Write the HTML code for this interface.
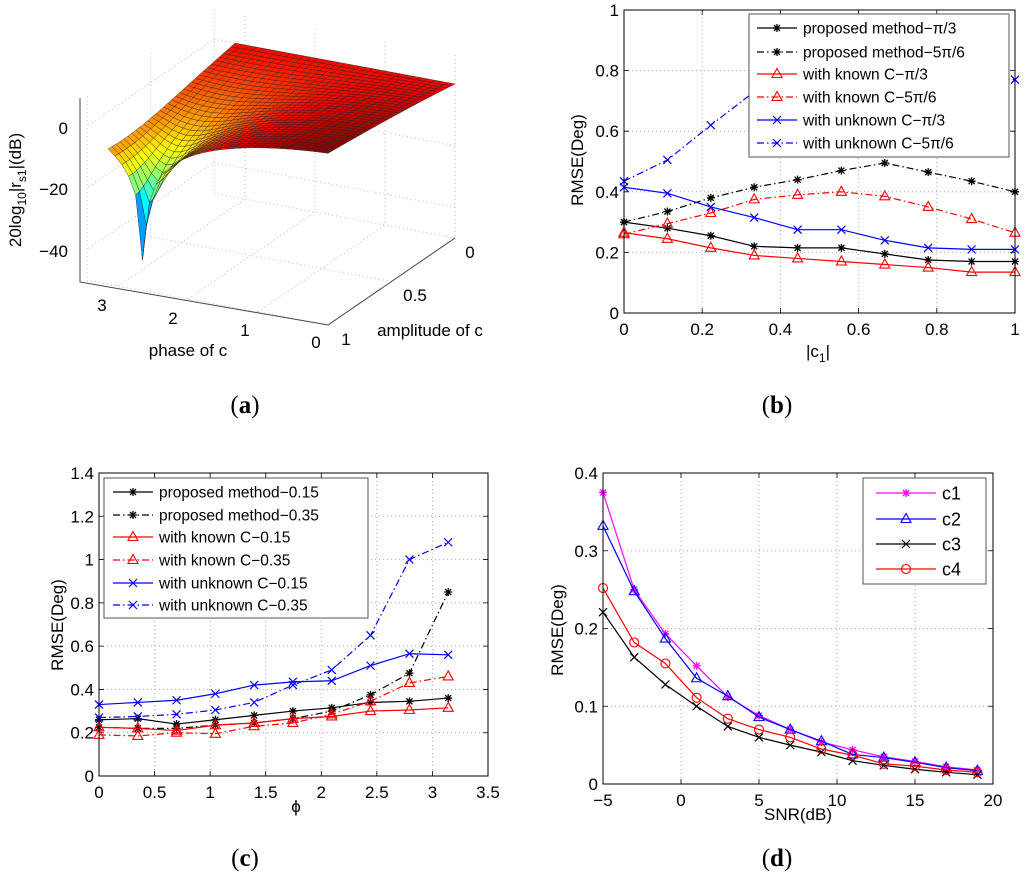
<!DOCTYPE html>
<html><head><meta charset="utf-8"><style>
body{margin:0;background:#fff}
svg{display:block;font-family:"Liberation Sans",sans-serif}
</style></head><body>
<svg id="fig" width="1024" height="882" viewBox="0 0 1024 882">
<g id="pa"></g>
<g id="pb"></g>
<g id="pc"></g>
<g id="pd"></g>
<text x="245" y="413" text-anchor="middle" font-family="Liberation Serif" font-size="25">(<tspan font-weight="bold">a</tspan>)</text>
<text x="777" y="413" text-anchor="middle" font-family="Liberation Serif" font-size="25">(<tspan font-weight="bold">b</tspan>)</text>
<text x="245" y="866" text-anchor="middle" font-family="Liberation Serif" font-size="25">(<tspan font-weight="bold">c</tspan>)</text>
<text x="777" y="866" text-anchor="middle" font-family="Liberation Serif" font-size="25">(<tspan font-weight="bold">d</tspan>)</text>
</svg>
<script>
// ---- Panel (b) data ----
const bX = [0, 0.111, 0.222, 0.333, 0.444, 0.556, 0.667, 0.778, 0.889, 1];
const bPropPi3 = [0.30, 0.28, 0.255, 0.22, 0.215, 0.215, 0.195, 0.175, 0.17, 0.17];
const bProp5Pi6 = [0.30, 0.335, 0.38, 0.415, 0.44, 0.47, 0.495, 0.465, 0.435, 0.40];
const bKnownPi3 = [0.265, 0.245, 0.215, 0.19, 0.18, 0.17, 0.16, 0.15, 0.135, 0.135];
const bKnown5Pi6 = [0.26, 0.295, 0.33, 0.375, 0.39, 0.40, 0.385, 0.35, 0.31, 0.265];
const bUnkPi3 = [0.415, 0.395, 0.35, 0.315, 0.275, 0.275, 0.24, 0.215, 0.21, 0.21];
const bUnk5Pi6 = [0.435, 0.505, 0.62, 0.73, 0.78, 0.80, 0.80, 0.79, 0.78, 0.77];
const bXTicks = ["0","0.2","0.4","0.6","0.8","1"];
const bYTicks = ["0","0.2","0.4","0.6","0.8","1"];
const bLegend = ["proposed method\u2212\u03c0/3","proposed method\u22125\u03c0/6","with known C\u2212\u03c0/3","with known C\u22125\u03c0/6","with unknown C\u2212\u03c0/3","with unknown C\u22125\u03c0/6"];
// ---- Panel (c) data ----
const cX = [0, 0.349, 0.698, 1.047, 1.396, 1.745, 2.094, 2.443, 2.793, 3.142];
const cProp15 = [0.26, 0.265, 0.24, 0.26, 0.28, 0.30, 0.315, 0.34, 0.345, 0.36];
const cProp35 = [0.225, 0.22, 0.22, 0.235, 0.245, 0.265, 0.30, 0.375, 0.475, 0.85];
const cKnown15 = [0.225, 0.22, 0.21, 0.235, 0.245, 0.265, 0.275, 0.30, 0.305, 0.315];
const cKnown35 = [0.19, 0.185, 0.20, 0.195, 0.23, 0.245, 0.285, 0.345, 0.43, 0.46];
const cUnk15 = [0.33, 0.34, 0.35, 0.38, 0.42, 0.435, 0.44, 0.51, 0.565, 0.56];
const cUnk35 = [0.27, 0.275, 0.285, 0.305, 0.34, 0.42, 0.49, 0.65, 1.0, 1.08];
const cXTicks = ["0","0.5","1","1.5","2","2.5","3","3.5"];
const cYTicks = ["0","0.2","0.4","0.6","0.8","1","1.2","1.4"];
const cLegend = ["proposed method\u22120.15","proposed method\u22120.35","with known C\u22120.15","with known C\u22120.35","with unknown C\u22120.15","with unknown C\u22120.35"];
// ---- Panel (d) data ----
const dX = [-5, -3, -1, 1, 3, 5, 7, 9, 11, 13, 15, 17, 19];
const dC1 = [0.375, 0.25, 0.193, 0.152, 0.112, 0.088, 0.07, 0.054, 0.044, 0.035, 0.029, 0.022, 0.018];
const dC2 = [0.332, 0.248, 0.187, 0.136, 0.113, 0.086, 0.07, 0.055, 0.038, 0.034, 0.028, 0.021, 0.017];
const dC3 = [0.221, 0.163, 0.128, 0.10, 0.074, 0.06, 0.05, 0.041, 0.03, 0.024, 0.019, 0.015, 0.012];
const dC4 = [0.252, 0.182, 0.155, 0.111, 0.084, 0.07, 0.06, 0.045, 0.037, 0.026, 0.023, 0.018, 0.015];
const dXTicks = ["-5","0","5","10","15","20"];
const dYTicks = ["0","0.1","0.2","0.3","0.4"];
const dLegend = ["c1","c2","c3","c4"];

const NS = "http://www.w3.org/2000/svg";
function mk(parent, tag, attrs, text) {
  const e = document.createElementNS(NS, tag);
  for (const k in attrs) e.setAttribute(k, attrs[k]);
  if (text !== undefined) e.textContent = text;
  parent.appendChild(e);
  return e;
}
const DASHDOT = "7,3,1.5,3";

function marker(g, type, x, y, color) {
  let m;
  if (type === "star") {
    m = mk(g, "path", {d:`M${x-4},${y}H${x+4}M${x},${y-4}V${y+4}M${x-3},${y-3}L${x+3},${y+3}M${x-3},${y+3}L${x+3},${y-3}`, stroke:color, "stroke-width":1.3, fill:"none"});
  } else if (type === "tri") {
    m = mk(g, "path", {d:`M${x},${y-5.5}L${x+5},${y+3.5}L${x-5},${y+3.5}Z`, stroke:color, "stroke-width":1.1, fill:"none"});
  } else if (type === "x") {
    m = mk(g, "path", {d:`M${x-4},${y-4}L${x+4},${y+4}M${x-4},${y+4}L${x+4},${y-4}`, stroke:color, "stroke-width":1.2, fill:"none"});
  } else {
    m = mk(g, "circle", {cx:x, cy:y, r:4.5, stroke:color, "stroke-width":1.1, fill:"none"});
  }
  
  
}

function chart(gid, box, xr, yr, xTicks, yTicks, series, legend, xlabel, ylabelPos) {
  const g = document.getElementById(gid);
  const sx = v => box.l + (v - xr[0]) / (xr[1] - xr[0]) * (box.r - box.l);
  const sy = v => box.b - (v - yr[0]) / (yr[1] - yr[0]) * (box.b - box.t);
  const nx = xTicks.length, ny = yTicks.length;
  for (let i = 0; i < nx; i++) {
    const v = xr[0] + i * (xr[1] - xr[0]) / (nx - 1), x = sx(v);
    if (i > 0 && i < nx - 1) {
      const gl = mk(g, "line", {x1:x, x2:x, y1:box.t, y2:box.b, stroke:"#aaa", "stroke-dasharray":"1,3", "stroke-width":1});
      
      
    }
    mk(g, "path", {d:`M${x},${box.b}v-5M${x},${box.t}v5`, stroke:"#000", "stroke-width":0.8});
    const t = mk(g, "text", {x:x, y:box.b + 22, "text-anchor":"middle", "font-size":17}, xTicks[i].replace("-", "\u2212"));
    
    
  }
  for (let i = 0; i < ny; i++) {
    const v = yr[0] + i * (yr[1] - yr[0]) / (ny - 1), y = sy(v);
    if (i > 0 && i < ny - 1) {
      const gl = mk(g, "line", {x1:box.l, x2:box.r, y1:y, y2:y, stroke:"#aaa", "stroke-dasharray":"1,3", "stroke-width":1});
      
      
    }
    mk(g, "path", {d:`M${box.l},${y}h5M${box.r},${y}h-5`, stroke:"#000", "stroke-width":0.8});
    const t = mk(g, "text", {x:box.l - 5, y:y + 6, "text-anchor":"end", "font-size":17}, yTicks[i]);
    
    
  }
  series.forEach(s => {
    const sg = mk(g, "g", {});
    
    
    const pts = s.x.map((xv, i) => sx(xv) + "," + sy(s.y[i])).join(" ");
    const a = {points:pts, fill:"none", stroke:s.color, "stroke-width":1.2};
    if (s.dash) a["stroke-dasharray"] = DASHDOT;
    mk(sg, "polyline", a);
    s.x.forEach((xv, i) => marker(sg, s.m, sx(xv), sy(s.y[i]), s.color));
  });
  const fr = mk(g, "rect", {x:box.l, y:box.t, width:box.r - box.l, height:box.b - box.t, fill:"none", stroke:"#000", "stroke-width":1});
  
  
  const lg = mk(g, "g", {});
  
  
  mk(lg, "rect", {x:legend.x, y:legend.y, width:legend.w, height:legend.h, fill:"#fff", stroke:"#555", "stroke-width":1});
  series.forEach((s, i) => {
    const y = legend.rows[i];
    const e = mk(lg, "g", {});
    
    
    const a = {x1:legend.l1, x2:legend.l2, y1:y, y2:y, stroke:s.color, "stroke-width":1.2};
    if (s.dash) a["stroke-dasharray"] = DASHDOT;
    mk(e, "line", a);
    marker(e, s.m, (legend.l1 + legend.l2) / 2, y, s.color);
    mk(e, "text", {x:legend.tx, y:y + legend.fs * 0.36, "font-size":legend.fs}, legend.labels[i]);
  });
  const xl = mk(g, "text", {x:xlabel.x, y:xlabel.y, "text-anchor":"middle", "font-size":17}, xlabel.t);
  
  
  const yl = mk(g, "text", {x:0, y:0, "text-anchor":"middle", "font-size":17, transform:`translate(${ylabelPos.x},${ylabelPos.y}) rotate(-90)`}, "RMSE(Deg)");
  
  
  return xl;
}

const bxl = chart("pb", {l:624, r:1015, t:10, b:313}, [0, 1], [0, 1], bXTicks, bYTicks, [
  {name:"series-proposed-pi3", x:bX, y:bPropPi3, color:"#000", m:"star"},
  {name:"series-proposed-5pi6", x:bX, y:bProp5Pi6, color:"#000", m:"star", dash:1},
  {name:"series-known-pi3", x:bX, y:bKnownPi3, color:"#f00", m:"tri"},
  {name:"series-known-5pi6", x:bX, y:bKnown5Pi6, color:"#f00", m:"tri", dash:1},
  {name:"series-unknown-pi3", x:bX, y:bUnkPi3, color:"#00f", m:"x"},
  {name:"series-unknown-5pi6", x:bX, y:bUnk5Pi6, color:"#00f", m:"x", dash:1}
], {x:749, y:14, w:260, h:143, rows:[28,52,74,97,120,143], l1:757, l2:797, tx:803, fs:15.5, labels:bLegend},
  {x:818, y:357, t:""}, {x:583, y:160});
bxl.innerHTML = "|c<tspan font-size='12' dy='5'>1</tspan><tspan dy='-5'>|</tspan>";

chart("pc", {l:99, r:488, t:473, b:776}, [0, 3.5], [0, 1.4], cXTicks, cYTicks, [
  {name:"series-proposed-0.15", x:cX, y:cProp15, color:"#000", m:"star"},
  {name:"series-proposed-0.35", x:cX, y:cProp35, color:"#000", m:"star", dash:1},
  {name:"series-known-0.15", x:cX, y:cKnown15, color:"#f00", m:"tri"},
  {name:"series-known-0.35", x:cX, y:cKnown35, color:"#f00", m:"tri", dash:1},
  {name:"series-unknown-0.15", x:cX, y:cUnk15, color:"#00f", m:"x"},
  {name:"series-unknown-0.35", x:cX, y:cUnk35, color:"#00f", m:"x", dash:1}
], {x:104, y:478, w:264, h:140, rows:[492,515,537,560,583,605], l1:113, l2:153, tx:159, fs:15.5, labels:cLegend},
  {x:296, y:812, t:"\u03d5"}, {x:63, y:625});

chart("pd", {l:603, r:993, t:473, b:784}, [-5, 20], [0, 0.4], dXTicks, dYTicks, [
  {name:"series-c1", x:dX, y:dC1, color:"#f0f", m:"star"},
  {name:"series-c2", x:dX, y:dC2, color:"#00f", m:"tri"},
  {name:"series-c3", x:dX, y:dC3, color:"#000", m:"x"},
  {name:"series-c4", x:dX, y:dC4, color:"#f00", m:"circle"}
], {x:863, y:478, w:123, h:106, rows:[493,519,544,569], l1:876, l2:936, tx:942, fs:18, labels:dLegend},
  {x:798, y:820, t:"SNR(dB)"}, {x:563, y:630});

// Panel (a) 3D surface
(function(){
  const g = document.getElementById("pa");
  const kz = 3.08;
  const P = (ph, a, z) => [455 - 70*ph - 127*a, 238 - 13*ph + 87*a - (z + 50)*kz];
  const dot = {stroke:"#bbb", "stroke-dasharray":"1,3", "stroke-width":1, fill:"none"};
  [0,1,2,3].forEach(ph => { const p0=P(ph,0,-50), p1=P(ph,1,-50), p2=P(ph,0,10);
    mk(g,"path",Object.assign({d:`M${p1}L${p0}L${p2}`},dot)); });
  [0,0.5,1].forEach(a => { const p0=P(0,a,-50), p1=P(Math.PI+0.3,a,-50), p2=P(Math.PI+0.3,a,10);
    mk(g,"path",Object.assign({d:`M${p0}L${p1}L${p2}`},dot)); });
  [-40,-20,0].forEach(z => { const p0=P(0,0,z), p1=P(Math.PI+0.3,0,z), p2=P(Math.PI+0.3,1,z);
    mk(g,"path",Object.assign({d:`M${p0}L${p1}L${p2}`},dot)); });
  mk(g,"path",{d:"M80,98V282L328,325L455,238",stroke:"#444","stroke-width":1,fill:"none"});
  const N = 32, quads = [];
  const f = (ph, a) => { const re = 1 + a*Math.cos(ph+0.5), im = a*Math.sin(ph+0.5);
    return Math.max(-40, 20*Math.log10(Math.sqrt(re*re+im*im) + 1e-6)); };
  const jet = t => { const c = v => Math.round(255*Math.max(0, Math.min(1, v)));
    return `rgb(${c(1.5-Math.abs(4*t-3))},${c(1.5-Math.abs(4*t-2))},${c(1.5-Math.abs(4*t-1))})`; };
  for (let i = 0; i < N; i++) for (let j = 0; j < N; j++) {
    const ph0 = Math.PI*i/N, ph1 = Math.PI*(i+1)/N, a0 = j/N, a1 = (j+1)/N;
    const zs = [f(ph0,a0), f(ph1,a0), f(ph1,a1), f(ph0,a1)];
    const zm = (zs[0]+zs[1]+zs[2]+zs[3])/4;
    const pts = [P(ph0,a0,zs[0]), P(ph1,a0,zs[1]), P(ph1,a1,zs[2]), P(ph0,a1,zs[3])];
    const depth = -13*(ph0+ph1)/2 + 87*(a0+a1)/2;
    quads.push({pts, zm, depth});
  }
  quads.sort((p, q) => p.depth - q.depth);
  const sg = mk(g, "g", {});
  
  
  quads.forEach(q => {
    const t = Math.max(0, Math.min(1, (q.zm + 40) / 46));
    mk(sg, "polygon", {points:q.pts.map(p => p.join(",")).join(" "), fill:jet(t), stroke:"#222", "stroke-width":0.5, "stroke-opacity":0.8});
  });
  const txt = (x, y, s, name, anchor) => { const t = mk(g, "text", {x, y, "font-size":17, "text-anchor":anchor||"middle"}, s);
      return t; };
  txt(68,134,"0","z-tick-label","end"); txt(68,195,"\u221220","z-tick-label","end"); txt(68,257,"\u221240","z-tick-label","end");
  txt(102,311,"3","x-tick-label"); txt(173,324,"2","x-tick-label"); txt(245,336,"1","x-tick-label"); txt(316,348,"0","x-tick-label");
  txt(346,345,"1","y-tick-label"); txt(415,301,"0.5","y-tick-label"); txt(470,258,"0","y-tick-label");
  txt(188,356,"phase of c","x-axis-title"); txt(430,336,"amplitude of c","y-axis-title");
  const zl = mk(g, "text", {x:0, y:0, "font-size":17, "text-anchor":"middle", transform:"translate(21,190) rotate(-90)"});
  zl.innerHTML = "20log<tspan font-size='12' dy='5'>10</tspan><tspan dy='-5'>|r</tspan><tspan font-size='12' dy='5'>s1</tspan><tspan dy='-5'>|(dB)</tspan>";
  
  
})();
</script>
</body></html>
